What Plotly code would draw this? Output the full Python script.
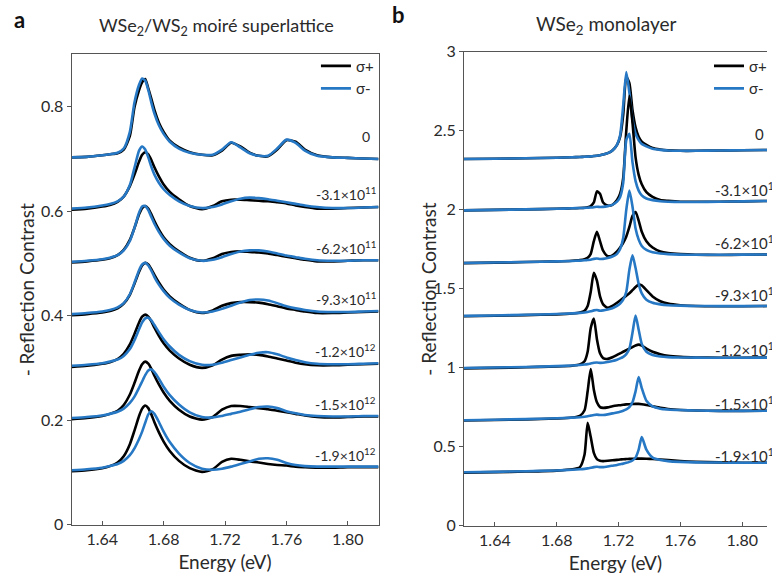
import plotly.graph_objects as go

# ---------------- Panel a: WSe2/WS2 moire superlattice ----------------
energy_a = [1.620, 1.630, 1.640, 1.645, 1.650, 1.654, 1.658, 1.661, 1.664, 1.666,
            1.668, 1.670, 1.672, 1.674, 1.677, 1.680, 1.684, 1.690, 1.697, 1.705,
            1.712, 1.718, 1.724, 1.730, 1.736, 1.742, 1.748, 1.754, 1.760, 1.766,
            1.772, 1.780, 1.790, 1.800, 1.810, 1.820]

a_plus = [
    [0.703, 0.704, 0.707, 0.709, 0.711, 0.718, 0.744, 0.799, 0.832, 0.847, 0.853, 0.835, 0.815, 0.794, 0.769, 0.752, 0.735, 0.722, 0.713, 0.708, 0.707, 0.716, 0.731, 0.724, 0.712, 0.706, 0.705, 0.718, 0.736, 0.733, 0.718, 0.707, 0.703, 0.702, 0.701, 0.700],
    [0.603, 0.605, 0.609, 0.612, 0.618, 0.628, 0.648, 0.670, 0.695, 0.708, 0.713, 0.709, 0.698, 0.684, 0.666, 0.651, 0.637, 0.623, 0.610, 0.604, 0.610, 0.619, 0.622, 0.622, 0.621, 0.620, 0.619, 0.617, 0.615, 0.611, 0.608, 0.605, 0.605, 0.606, 0.607, 0.608],
    [0.502, 0.504, 0.507, 0.510, 0.516, 0.526, 0.545, 0.568, 0.594, 0.606, 0.610, 0.605, 0.594, 0.581, 0.564, 0.550, 0.537, 0.523, 0.511, 0.505, 0.510, 0.518, 0.522, 0.523, 0.522, 0.521, 0.519, 0.516, 0.513, 0.510, 0.507, 0.504, 0.504, 0.505, 0.506, 0.506],
    [0.401, 0.403, 0.406, 0.409, 0.414, 0.423, 0.440, 0.461, 0.484, 0.496, 0.501, 0.498, 0.489, 0.478, 0.463, 0.450, 0.437, 0.423, 0.411, 0.405, 0.410, 0.419, 0.424, 0.426, 0.426, 0.425, 0.422, 0.418, 0.414, 0.411, 0.408, 0.405, 0.405, 0.406, 0.407, 0.408],
    [0.302, 0.304, 0.308, 0.311, 0.317, 0.327, 0.345, 0.365, 0.387, 0.398, 0.402, 0.398, 0.389, 0.377, 0.361, 0.347, 0.333, 0.318, 0.306, 0.300, 0.305, 0.316, 0.323, 0.325, 0.326, 0.325, 0.322, 0.318, 0.314, 0.310, 0.307, 0.305, 0.305, 0.306, 0.307, 0.308],
    [0.202, 0.204, 0.208, 0.212, 0.218, 0.229, 0.249, 0.271, 0.295, 0.307, 0.312, 0.308, 0.298, 0.285, 0.268, 0.253, 0.237, 0.220, 0.207, 0.201, 0.206, 0.220, 0.227, 0.227, 0.225, 0.223, 0.221, 0.218, 0.215, 0.212, 0.209, 0.206, 0.205, 0.206, 0.207, 0.207],
    [0.102, 0.104, 0.108, 0.112, 0.119, 0.131, 0.154, 0.180, 0.208, 0.222, 0.228, 0.223, 0.211, 0.196, 0.176, 0.159, 0.141, 0.122, 0.108, 0.101, 0.106, 0.120, 0.126, 0.124, 0.121, 0.119, 0.116, 0.114, 0.113, 0.111, 0.110, 0.109, 0.109, 0.110, 0.110, 0.110],
]
a_minus = [
    [0.703, 0.704, 0.707, 0.709, 0.712, 0.720, 0.752, 0.808, 0.842, 0.854, 0.850, 0.832, 0.808, 0.787, 0.764, 0.748, 0.733, 0.720, 0.712, 0.708, 0.708, 0.718, 0.732, 0.722, 0.711, 0.706, 0.706, 0.720, 0.737, 0.731, 0.716, 0.706, 0.703, 0.702, 0.701, 0.700],
    [0.605, 0.607, 0.611, 0.614, 0.619, 0.628, 0.650, 0.683, 0.716, 0.724, 0.718, 0.703, 0.685, 0.670, 0.654, 0.642, 0.631, 0.619, 0.610, 0.606, 0.608, 0.613, 0.619, 0.624, 0.626, 0.625, 0.623, 0.620, 0.617, 0.614, 0.611, 0.608, 0.606, 0.606, 0.607, 0.608],
    [0.503, 0.505, 0.508, 0.511, 0.516, 0.525, 0.543, 0.568, 0.597, 0.609, 0.610, 0.602, 0.589, 0.576, 0.560, 0.547, 0.534, 0.521, 0.510, 0.505, 0.507, 0.512, 0.518, 0.523, 0.525, 0.525, 0.523, 0.519, 0.515, 0.512, 0.509, 0.506, 0.505, 0.505, 0.506, 0.506],
    [0.403, 0.405, 0.408, 0.411, 0.416, 0.424, 0.441, 0.463, 0.487, 0.498, 0.501, 0.496, 0.486, 0.474, 0.459, 0.447, 0.434, 0.421, 0.411, 0.406, 0.408, 0.413, 0.419, 0.425, 0.430, 0.431, 0.429, 0.424, 0.418, 0.414, 0.411, 0.408, 0.407, 0.407, 0.408, 0.409],
    [0.304, 0.306, 0.309, 0.312, 0.316, 0.323, 0.336, 0.353, 0.374, 0.387, 0.395, 0.396, 0.391, 0.382, 0.368, 0.355, 0.341, 0.325, 0.313, 0.306, 0.306, 0.310, 0.315, 0.320, 0.325, 0.329, 0.330, 0.326, 0.320, 0.315, 0.311, 0.308, 0.307, 0.307, 0.308, 0.309],
    [0.204, 0.206, 0.209, 0.212, 0.216, 0.222, 0.233, 0.245, 0.262, 0.274, 0.286, 0.295, 0.297, 0.292, 0.279, 0.264, 0.248, 0.230, 0.215, 0.206, 0.205, 0.208, 0.212, 0.216, 0.221, 0.225, 0.226, 0.223, 0.217, 0.213, 0.210, 0.208, 0.207, 0.207, 0.208, 0.208],
    [0.104, 0.106, 0.109, 0.112, 0.116, 0.122, 0.133, 0.146, 0.164, 0.178, 0.195, 0.211, 0.217, 0.212, 0.196, 0.178, 0.158, 0.136, 0.118, 0.107, 0.105, 0.107, 0.111, 0.116, 0.121, 0.126, 0.127, 0.124, 0.118, 0.114, 0.112, 0.111, 0.111, 0.111, 0.111, 0.111],
]

# ---------------- Panel b: WSe2 monolayer ----------------
energy_b = [1.620, 1.640, 1.660, 1.680, 1.690, 1.695, 1.698, 1.700, 1.702, 1.704,
            1.706, 1.708, 1.710, 1.713, 1.716, 1.719, 1.721, 1.723, 1.725, 1.727,
            1.729, 1.731, 1.733, 1.735, 1.738, 1.742, 1.747, 1.752, 1.760, 1.770,
            1.785, 1.800, 1.820]

b_plus = [
    [2.320, 2.322, 2.325, 2.328, 2.331, 2.333, 2.334, 2.335, 2.337, 2.339, 2.341, 2.344, 2.348, 2.357, 2.374, 2.41, 2.46, 2.60, 2.84, 2.80, 2.63, 2.52, 2.46, 2.43, 2.41, 2.39, 2.38, 2.375, 2.372, 2.372, 2.374, 2.376, 2.378],
    [1.995, 1.998, 2.001, 2.005, 2.008, 2.010, 2.012, 2.015, 2.022, 2.045, 2.115, 2.10, 2.045, 2.025, 2.03, 2.06, 2.10, 2.20, 2.50, 2.72, 2.55, 2.33, 2.22, 2.16, 2.11, 2.08, 2.06, 2.055, 2.05, 2.05, 2.05, 2.052, 2.055],
    [1.661, 1.664, 1.668, 1.672, 1.676, 1.680, 1.686, 1.695, 1.72, 1.80, 1.86, 1.80, 1.74, 1.705, 1.71, 1.735, 1.76, 1.79, 1.83, 1.89, 1.96, 1.985, 1.93, 1.86, 1.80, 1.76, 1.735, 1.725, 1.718, 1.714, 1.713, 1.714, 1.716],
    [1.325, 1.328, 1.332, 1.337, 1.342, 1.348, 1.36, 1.39, 1.48, 1.60, 1.55, 1.45, 1.40, 1.378, 1.39, 1.41, 1.425, 1.44, 1.455, 1.47, 1.49, 1.51, 1.525, 1.52, 1.49, 1.45, 1.42, 1.405, 1.395, 1.39, 1.388, 1.388, 1.39],
    [0.995, 0.998, 1.002, 1.007, 1.012, 1.02, 1.04, 1.10, 1.25, 1.31, 1.18, 1.09, 1.06, 1.055, 1.065, 1.08, 1.09, 1.10, 1.11, 1.12, 1.13, 1.14, 1.145, 1.14, 1.12, 1.10, 1.085, 1.075, 1.068, 1.064, 1.062, 1.062, 1.063],
    [0.665, 0.668, 0.672, 0.678, 0.684, 0.695, 0.73, 0.85, 0.99, 0.86, 0.78, 0.75, 0.745, 0.748, 0.755, 0.76, 0.762, 0.765, 0.767, 0.768, 0.769, 0.770, 0.770, 0.768, 0.763, 0.755, 0.745, 0.738, 0.732, 0.728, 0.726, 0.726, 0.727],
    [0.335, 0.338, 0.342, 0.348, 0.356, 0.37, 0.45, 0.65, 0.56, 0.46, 0.42, 0.41, 0.408, 0.41, 0.413, 0.416, 0.418, 0.42, 0.421, 0.422, 0.423, 0.424, 0.424, 0.424, 0.423, 0.421, 0.418, 0.414, 0.408, 0.403, 0.400, 0.398, 0.398],
]
b_minus = [
    [2.320, 2.322, 2.325, 2.328, 2.331, 2.333, 2.334, 2.335, 2.337, 2.339, 2.341, 2.344, 2.348, 2.357, 2.374, 2.41, 2.47, 2.66, 2.87, 2.74, 2.57, 2.48, 2.44, 2.415, 2.40, 2.385, 2.378, 2.374, 2.372, 2.372, 2.374, 2.376, 2.378],
    [1.995, 1.998, 2.001, 2.005, 2.008, 2.010, 2.011, 2.012, 2.013, 2.015, 2.018, 2.016, 2.017, 2.022, 2.03, 2.05, 2.08, 2.17, 2.44, 2.48, 2.30, 2.18, 2.12, 2.09, 2.07, 2.06, 2.053, 2.05, 2.048, 2.048, 2.05, 2.052, 2.055],
    [1.662, 1.665, 1.668, 1.672, 1.675, 1.677, 1.679, 1.681, 1.683, 1.688, 1.690, 1.687, 1.688, 1.694, 1.703, 1.72, 1.75, 1.82, 2.00, 2.12, 2.02, 1.88, 1.81, 1.77, 1.745, 1.73, 1.722, 1.718, 1.715, 1.714, 1.714, 1.715, 1.716],
    [1.327, 1.330, 1.334, 1.339, 1.343, 1.346, 1.349, 1.352, 1.356, 1.362, 1.364, 1.360, 1.362, 1.368, 1.376, 1.39, 1.405, 1.43, 1.48, 1.62, 1.71, 1.63, 1.53, 1.47, 1.43, 1.41, 1.40, 1.395, 1.392, 1.39, 1.389, 1.389, 1.39],
    [0.997, 1.000, 1.004, 1.009, 1.013, 1.016, 1.019, 1.022, 1.026, 1.030, 1.032, 1.030, 1.031, 1.036, 1.042, 1.05, 1.058, 1.068, 1.085, 1.12, 1.22, 1.33, 1.24, 1.15, 1.10, 1.08, 1.07, 1.066, 1.064, 1.063, 1.062, 1.062, 1.063],
    [0.667, 0.670, 0.674, 0.679, 0.683, 0.686, 0.689, 0.692, 0.696, 0.700, 0.702, 0.700, 0.700, 0.704, 0.710, 0.716, 0.721, 0.727, 0.735, 0.75, 0.78, 0.85, 0.94, 0.87, 0.79, 0.755, 0.74, 0.735, 0.731, 0.728, 0.726, 0.726, 0.727],
    [0.337, 0.340, 0.344, 0.349, 0.353, 0.356, 0.359, 0.362, 0.366, 0.370, 0.372, 0.370, 0.370, 0.374, 0.379, 0.384, 0.388, 0.392, 0.397, 0.403, 0.412, 0.43, 0.48, 0.56, 0.48, 0.43, 0.415, 0.408, 0.403, 0.400, 0.399, 0.398, 0.398],
]

density_labels_a = ["0", "-3.1×10<sup>11</sup>", "-6.2×10<sup>11</sup>", "-9.3×10<sup>11</sup>",
                    "-1.2×10<sup>12</sup>", "-1.5×10<sup>12</sup>", "-1.9×10<sup>12</sup>"]
density_labels_b = density_labels_a
legend_names = ["σ+", "σ-"]
ticks_x = [1.64, 1.68, 1.72, 1.76, 1.80]
ticks_ya = [0, 0.2, 0.4, 0.6, 0.8]
ticks_yb = [0, 0.5, 1, 1.5, 2, 2.5, 3]

BLACK = "#000000"
BLUE = "#2678c4"
FONT = "Lato"
TXT = "#2a2a2a"
W, H = 772, 581

fig = go.Figure()

def add_panel(energy, plus, minus, xa, ya, leg):
    for i, (p, m) in enumerate(zip(plus, minus)):
        fig.add_trace(go.Scatter(x=energy, y=p, mode="lines", xaxis=xa, yaxis=ya,
                                 line=dict(color=BLACK, width=2.6, shape="spline", smoothing=0.6),
                                 name=legend_names[0], showlegend=(i == 0), legend=leg))
        fig.add_trace(go.Scatter(x=energy, y=m, mode="lines", xaxis=xa, yaxis=ya,
                                 line=dict(color=BLUE, width=2.6, shape="spline", smoothing=0.6),
                                 name=legend_names[1], showlegend=(i == 0), legend=leg))

add_panel(energy_a, a_plus, a_minus, "x", "y", "legend")
add_panel(energy_b, b_plus, b_minus, "x2", "y2", "legend2")

def px(xp):
    return xp / W

def py(yp):
    return 1 - yp / H

axis_common = dict(showgrid=False, zeroline=False, showline=True, linecolor="#555555",
                   linewidth=1, tickcolor="#555555", tickfont=dict(family=FONT, size=16, color=TXT))
title_font = dict(family=FONT, size=19, color=TXT)

fig.update_layout(
    width=W, height=H, margin=dict(l=0, r=0, t=0, b=0),
    paper_bgcolor="white", plot_bgcolor="white",
    font=dict(family=FONT, color=TXT),
    xaxis=dict(domain=[px(72), px(381)], range=[1.62, 1.82], tickvals=ticks_x,
               tickformat=".2f", ticks="inside", ticklen=4, mirror=True, anchor="y",
               title=dict(text="Energy (eV)", font=title_font, standoff=8),
               **axis_common),
    yaxis=dict(domain=[py(532), py(46)], range=[0, 0.9], tickvals=ticks_ya,
               ticktext=["0", "0.2", "0.4", "0.6", "0.8"],
               ticks="outside", ticklen=4, mirror=True, anchor="x",
               **axis_common),
    xaxis2=dict(domain=[px(467), 1.0], range=[1.62, 1.62 + (772 - 467) / 1556], tickvals=ticks_x,
                tickformat=".2f", ticks="inside", ticklen=4, mirror=True, anchor="y2",
                title=dict(text="Energy (eV)", font=title_font, standoff=8),
                **axis_common),
    yaxis2=dict(domain=[py(533), py(43)], range=[0, 3], tickvals=ticks_yb,
                ticktext=["0", "0.5", "1", "1.5", "2", "2.5", "3"],
                ticks="outside", ticklen=4, mirror=False, anchor="x2",
                **axis_common),
    legend=dict(x=px(318), y=py(41), xanchor="left", yanchor="top", bgcolor="rgba(0,0,0,0)",
                font=dict(family=FONT, size=15, color=TXT), itemwidth=30, tracegroupgap=0),
    legend2=dict(x=px(714), y=py(41), xanchor="left", yanchor="top", bgcolor="rgba(0,0,0,0)",
                 font=dict(family=FONT, size=15, color=TXT), itemwidth=30, tracegroupgap=0),
)

ann = []
ann.append(dict(text="<b>a</b>", x=px(12), y=py(10), xref="paper", yref="paper",
                showarrow=False, font=dict(family=FONT, size=22, color="#111"),
                xanchor="left", yanchor="middle"))
ann.append(dict(text="<b>b</b>", x=px(393), y=py(5), xref="paper", yref="paper",
                showarrow=False, font=dict(family=FONT, size=22, color="#111"),
                xanchor="left", yanchor="middle"))
ann.append(dict(text="WSe<sub>2</sub>/WS<sub>2</sub> moiré superlattice", x=px(218), y=py(17),
                xref="paper", yref="paper", showarrow=False, xanchor="center", yanchor="middle",
                font=dict(family=FONT, size=18, color=TXT)))
ann.append(dict(text="WSe<sub>2</sub> monolayer", x=px(610), y=py(15),
                xref="paper", yref="paper", showarrow=False, xanchor="center", yanchor="middle",
                font=dict(family=FONT, size=19, color=TXT)))
# vertical axis titles
ann.append(dict(text="- Reflection Contrast", x=px(27), y=py(289), xref="paper", yref="paper",
                textangle=-90, showarrow=False, xanchor="center", yanchor="middle", font=title_font))
ann.append(dict(text="- Reflection Contrast", x=px(431), y=py(289), xref="paper", yref="paper",
                textangle=-90, showarrow=False, xanchor="center", yanchor="middle", font=title_font))

for i, lab in enumerate(density_labels_a):
    ann.append(dict(text=lab, x=1.8195 if i else 1.816,
                    y=a_plus[i][-1] + (0.043 if i == 0 else 0.025), xref="x", yref="y",
                    xanchor="right", yanchor="middle", showarrow=False,
                    font=dict(family=FONT, size=14, color=TXT)))
label_gap_b = [0.10, 0.075, 0.075, 0.07, 0.05, 0.045, 0.045]
for i, lab in enumerate(density_labels_b):
    ann.append(dict(text=lab, x=px(787) if i else px(771), y=b_plus[i][-1] + label_gap_b[i],
                    xref="paper", yref="y2",
                    xanchor="right", yanchor="middle", showarrow=False,
                    font=dict(family=FONT, size=15, color=TXT)))
fig.update_layout(annotations=ann)

fig.write_html("out.html")
